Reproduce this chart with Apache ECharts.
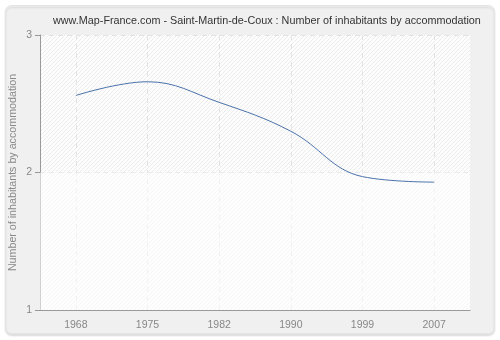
<!DOCTYPE html>
<html>
<head>
<meta charset="utf-8">
<script src="https://cdn.jsdelivr.net/npm/echarts@6/dist/echarts.min.js"></script>
<style>
  html, body { margin: 0; padding: 0; background: #ffffff; }
  #chart { width: 500px; height: 340px; }
</style>
</head>
<body>
<div id="chart"></div>
<script>
// Census years and average inhabitants per dwelling
const years = ['1968', '1975', '1982', '1990', '1999', '2007'];
const inhabitantsPerDwelling = [2.56, 2.66, 2.51, 2.30, 1.97, 1.93];
const yTicks = [1, 2, 3];

// Light diagonal hatch for the plot background
function hatchPattern() {
  const s = 4;
  const c = document.createElement('canvas');
  c.width = s; c.height = s;
  const g = c.getContext('2d');
  g.fillStyle = '#fdfdfd';
  g.fillRect(0, 0, s, s);
  g.strokeStyle = '#ececec';
  g.lineWidth = 1;
  g.beginPath();
  g.moveTo(0, s); g.lineTo(s, 0);
  g.moveTo(-s, s); g.lineTo(s, -s);
  g.moveTo(0, 2 * s); g.lineTo(2 * s, 0);
  g.stroke();
  return { image: c, repeat: 'repeat' };
}

const chart = echarts.init(document.getElementById('chart'), null, { renderer: 'canvas' });
const fontFamily = 'Liberation Sans, Arial, sans-serif';

chart.setOption({
  animation: false,
  backgroundColor: '#ffffff',
  graphic: [{
    type: 'rect',
    left: 5, top: 5,
    shape: { width: 489, height: 328, r: 6 },
    style: {
      fill: '#f0f0f0', stroke: '#e4e4e4', lineWidth: 1,
      shadowColor: 'rgba(0,0,0,0.12)', shadowBlur: 2, shadowOffsetY: 2
    },
    z: -10, silent: true
  }],
  title: {
    text: 'www.Map-France.com - Saint-Martin-de-Coux : Number of inhabitants by accommodation',
    left: 48, top: 11,
    textStyle: { fontFamily: fontFamily, fontSize: 10.8, fontWeight: 'normal', color: '#333333' }
  },
  grid: {
    left: 40, right: 30, top: 35, bottom: 30,
    outerBoundsMode: 'none',
    containLabel: false,
    show: true,
    backgroundColor: hatchPattern(),
    borderWidth: 0
  },
  xAxis: {
    type: 'category',
    data: years,
    boundaryGap: true,
    axisLine: { lineStyle: { color: '#999999', width: 1 } },
    axisTick: { alignWithLabel: true, length: 5, lineStyle: { color: '#999999' } },
    axisLabel: { color: '#888888', fontFamily: fontFamily, fontSize: 10.5, margin: 10 },
    splitLine: { show: true, alignWithLabel: true, lineStyle: { color: '#e3e3e3', type: [5, 4] } }
  },
  yAxis: {
    type: 'value',
    min: yTicks[0], max: yTicks[yTicks.length - 1], interval: 1,
    name: 'Number of inhabitants by accommodation',
    nameLocation: 'middle', nameGap: 21,
    nameMoveOverlap: false,
    nameTextStyle: { color: '#888888', fontFamily: fontFamily, fontSize: 10.7 },
    axisLine: { show: true, lineStyle: { color: '#999999', width: 1 } },
    axisTick: { show: true, length: 5, lineStyle: { color: '#999999' } },
    axisLabel: { color: '#888888', fontFamily: fontFamily, fontSize: 10.5, margin: 8 },
    splitLine: { show: true, lineStyle: { color: '#e3e3e3', type: [5, 4] } }
  },
  series: [{
    type: 'line',
    data: inhabitantsPerDwelling,
    smooth: 0.4,
    showSymbol: false,
    lineStyle: { color: '#4a72aa', width: 1 },
    itemStyle: { color: '#4a72aa' },
    // lower band of the plot is drawn with a softer hatch
    markArea: {
      silent: true,
      itemStyle: { color: 'rgba(255,255,255,0.55)' },
      data: [[{ yAxis: yTicks[0] }, { yAxis: yTicks[1] }]]
    }
  }]
});
</script>
</body>
</html>
